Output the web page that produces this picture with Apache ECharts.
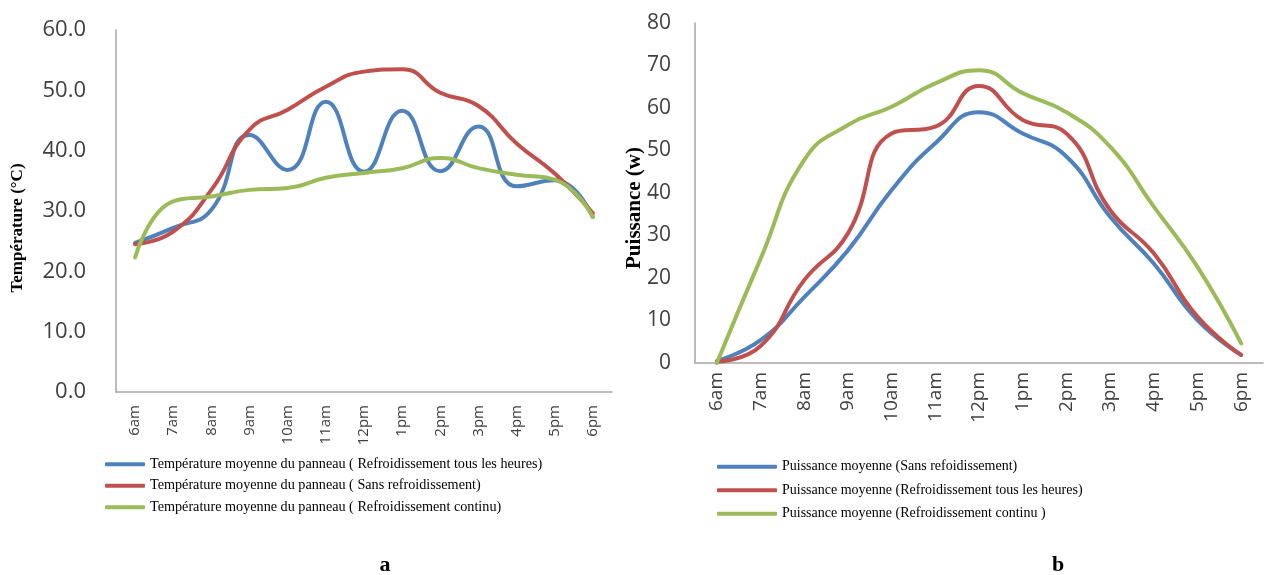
<!DOCTYPE html>
<html>
<head>
<meta charset="utf-8">
<script src="https://cdn.jsdelivr.net/npm/echarts@6/dist/echarts.min.js"></script>
<style>html,body{margin:0;padding:0;background:#fff;}#c{width:1269px;height:575px;}</style>
</head>
<body>
<div id="c"></div>
<script>
// ---- Data ----
var hours = ['6am','7am','8am','9am','10am','11am','12pm','1pm','2pm','3pm','4pm','5pm','6pm'];

// Chart a: Température (°C)
var tempLabels = ['Température moyenne du panneau ( Refroidissement tous les heures)',
                  'Température moyenne du panneau ( Sans refroidissement)',
                  'Température moyenne du panneau ( Refroidissement continu)'];
var tempHourly  = [24.7, 27.2, 30.2, 42.6, 36.8, 48.1, 36.5, 46.6, 36.6, 44.0, 34.1, 35.1, 29.0];
var tempNone    = [24.5, 26.6, 33.5, 43.5, 46.8, 50.6, 53.1, 53.5, 49.6, 47.4, 41.2, 36.2, 29.6];
var tempCont    = [22.3, 31.6, 32.4, 33.5, 33.8, 35.5, 36.3, 37.1, 38.8, 37.1, 36.0, 35.2, 29.0];
var tempTicks   = [0, 10, 20, 30, 40, 50, 60];

// Chart b: Puissance (W)
var powLabels = ['Puissance moyenne (Sans refoidissement)',
                 'Puissance moyenne (Refroidissement tous les heures)',
                 'Puissance moyenne (Refroidissement continu )'];
var powNone   = [0.5, 5.4, 15.5, 26.5, 40.7, 51.7, 59.0, 54.0, 48.6, 34.4, 23.4, 10.1, 1.9];
var powHourly = [0.3, 4.0, 19.5, 30.5, 54.0, 55.6, 65.2, 57.2, 54.0, 36.0, 25.8, 10.9, 1.9];
var powCont   = [0.0, 24.5, 47.8, 56.0, 60.3, 65.8, 68.9, 63.5, 59.0, 50.9, 36.8, 22.6, 4.6];
var powTicks  = [0, 10, 20, 30, 40, 50, 60, 70, 80];

var BLUE = '#4F81BD', RED = '#C0504D', GREEN = '#9BBB59';

var chart = echarts.init(document.getElementById('c'), null, {renderer: 'canvas'});

function line(name, data, color, idx) {
  return {
    name: name, type: 'line', data: data, xAxisIndex: idx, yAxisIndex: idx,
    smooth: 0.5, showSymbol: false, symbol: 'none',
    lineStyle: {color: color, width: 4, cap: 'round', join: 'round'},
    itemStyle: {color: color},
    emphasis: {disabled: true}
  };
}

var axisLineStyle = {show: true, lineStyle: {color: '#a6a6a6', width: 1.5}};

var option = {
  backgroundColor: '#ffffff',
  animation: false,
  grid: [
    {left: 116, top: 30, width: 496, height: 362, containLabel: false},
    {left: 695, top: 23, width: 568, height: 340, containLabel: false}
  ],
  xAxis: [
    {type: 'category', gridIndex: 0, data: hours, boundaryGap: true,
     axisLine: axisLineStyle, axisTick: {show: false},
     axisLabel: {rotate: 90, margin: 13, fontFamily: 'Open Sans', fontSize: 15, color: '#404040', interval: 0}},
    {type: 'category', gridIndex: 1, data: hours, boundaryGap: true,
     axisLine: axisLineStyle, axisTick: {show: false},
     axisLabel: {rotate: 90, margin: 9, fontFamily: 'Open Sans', fontSize: 19, color: '#404040', interval: 0}}
  ],
  yAxis: [
    {type: 'value', gridIndex: 0, min: tempTicks[0], max: tempTicks[tempTicks.length - 1], interval: 10,
     axisLine: axisLineStyle, axisTick: {show: false}, splitLine: {show: false},
     axisLabel: {margin: 30, fontFamily: 'Open Sans', fontSize: 22, color: '#404040',
                 formatter: function (v) { return v.toFixed(1); }}},
    {type: 'value', gridIndex: 1, min: powTicks[0], max: powTicks[powTicks.length - 1], interval: 10,
     axisLine: axisLineStyle, axisTick: {show: false}, splitLine: {show: false},
     axisLabel: {margin: 24, fontFamily: 'Open Sans', fontSize: 21, color: '#404040'}}
  ],
  legend: [
    {data: tempLabels, orient: 'vertical', left: 100, top: 451, itemWidth: 40, itemHeight: 4,
     itemGap: 5, icon: 'roundRect', selectedMode: false,
     textStyle: {fontFamily: 'Liberation Serif', fontSize: 14.2, color: '#000', lineHeight: 16.5}},
    {data: powLabels, orient: 'vertical', left: 712, top: 453, itemWidth: 60, itemHeight: 4,
     itemGap: 6, icon: 'roundRect', selectedMode: false,
     textStyle: {fontFamily: 'Liberation Serif', fontSize: 14, color: '#000', lineHeight: 17.5}}
  ],
  graphic: [
    {type: 'text', x: 18, y: 228, rotation: Math.PI / 2,
     style: {text: 'Température (°C)', font: 'bold 17px "Liberation Serif"', fill: '#000',
             textAlign: 'center', textVerticalAlign: 'middle'}},
    {type: 'text', x: 635, y: 208, rotation: Math.PI / 2,
     style: {text: 'Puissance (w)', font: 'bold 21px "Liberation Serif"', fill: '#000',
             textAlign: 'center', textVerticalAlign: 'middle'}},
    {type: 'text', x: 385, y: 565,
     style: {text: 'a', font: 'bold 22px "Liberation Serif"', fill: '#000',
             textAlign: 'center', textVerticalAlign: 'middle'}},
    {type: 'text', x: 1058, y: 565,
     style: {text: 'b', font: 'bold 22px "Liberation Serif"', fill: '#000',
             textAlign: 'center', textVerticalAlign: 'middle'}}
  ],
  series: [
    line(tempLabels[0], tempHourly, BLUE, 0),
    line(tempLabels[1], tempNone, RED, 0),
    line(tempLabels[2], tempCont, GREEN, 0),
    line(powLabels[0], powNone, BLUE, 1),
    line(powLabels[1], powHourly, RED, 1),
    line(powLabels[2], powCont, GREEN, 1)
  ]
};
chart.setOption(option);
</script>
</body>
</html>
